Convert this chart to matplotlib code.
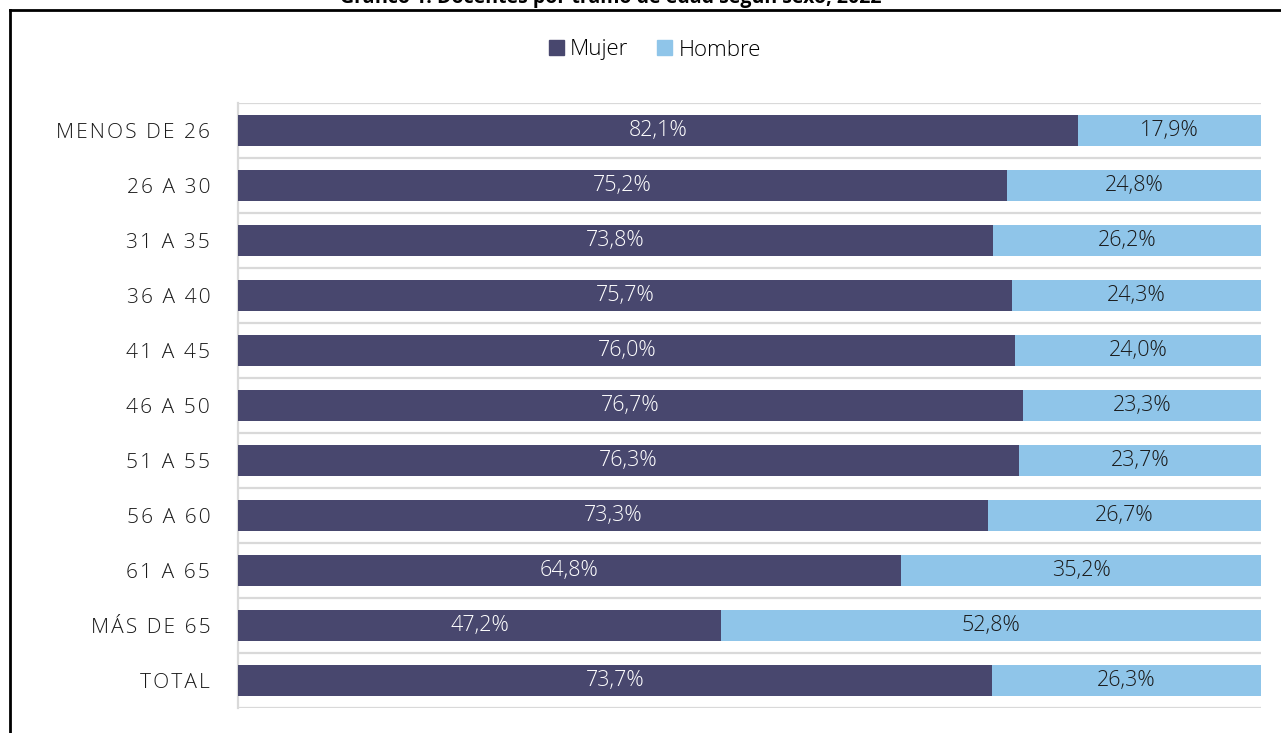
import matplotlib
matplotlib.use('Agg')
import matplotlib.pyplot as plt
from matplotlib.lines import Line2D
from matplotlib.patches import Patch
import numpy as np

plt.rcParams['font.family'] = ['Open Sans', 'DejaVu Sans']

categorias = ['MENOS DE 26', '26 A 30', '31 A 35', '36 A 40', '41 A 45', '46 A 50',
              '51 A 55', '56 A 60', '61 A 65', 'MÁS DE 65', 'TOTAL']
mujer = [82.1, 75.2, 73.8, 75.7, 76.0, 76.7, 76.3, 73.3, 64.8, 47.2, 73.7]
hombre = [17.9, 24.8, 26.2, 24.3, 24.0, 23.3, 23.7, 26.7, 35.2, 52.8, 26.3]
titulo = 'Gráfico 1. Docentes por tramo de edad según sexo, 2022'

c_mujer = '#48476E'
c_hombre = '#8FC5E9'


def espaciado(s):
    # letter spacing like the original axis labels
    return '\u200a'.join(s)


fig = plt.figure(figsize=(12.81, 7.33), dpi=100)
ax = fig.add_axes([238 / 1281, 1 - 708 / 733, 1023 / 1281, 605 / 733])

y = np.arange(len(categorias))
ax.barh(y, mujer, height=0.55, color=c_mujer, zorder=3)
ax.barh(y, hombre, left=mujer, height=0.55, color=c_hombre, zorder=3)

for i in range(len(categorias)):
    ax.text(mujer[i] / 2, y[i], f'{mujer[i]:.1f}%'.replace('.', ','),
            ha='center', va='center', color='white', fontsize=15.5,
            fontweight='light', zorder=4)
    ax.text(mujer[i] + hombre[i] / 2, y[i], f'{hombre[i]:.1f}%'.replace('.', ','),
            ha='center', va='center', color='#1a1a1a', fontsize=15.5,
            fontweight='light', zorder=4)

ax.set_xlim(0, 100)
ax.set_ylim(len(categorias) - 0.5, -0.5)
ax.set_yticks(y)
ax.set_yticklabels([espaciado(c) for c in categorias], fontsize=15, color='#1a1a1a',
                   fontweight='light')
ax.tick_params(axis='y', length=0, pad=20)
ax.set_xticks([])

# category boundary gridlines
for b in np.arange(-0.5, len(categorias), 1.0):
    ax.axhline(b, color='#D9D9D9', lw=1.6, zorder=1)

for s in ['top', 'right', 'bottom']:
    ax.spines[s].set_visible(False)
ax.spines['left'].set_color('#D9D9D9')
ax.spines['left'].set_linewidth(1.6)

handles = [Patch(color=c_mujer, label='Mujer'), Patch(color=c_hombre, label='Hombre')]
fig.legend(handles=handles, loc='center', bbox_to_anchor=(655 / 1281, 1 - 50 / 733),
           ncol=2, frameon=False, prop={'size': 16, 'weight': 'light'},
           handlelength=0.65, handleheight=0.65, handletextpad=0.3, columnspacing=1.3)

# outer frame (partially cropped)
fig.add_artist(Line2D([10 / 1281, 1], [1 - 10 / 733, 1 - 10 / 733], color='black', lw=2,
                      transform=fig.transFigure))
fig.add_artist(Line2D([10 / 1281, 10 / 1281], [0, 1 - 10 / 733], color='black', lw=2,
                      transform=fig.transFigure))
fig.text(611 / 1281, 1 - 3 / 733, titulo, ha='center', va='baseline', fontsize=14,
         fontweight='bold', color='black')

fig.savefig('out.png', dpi=100)
